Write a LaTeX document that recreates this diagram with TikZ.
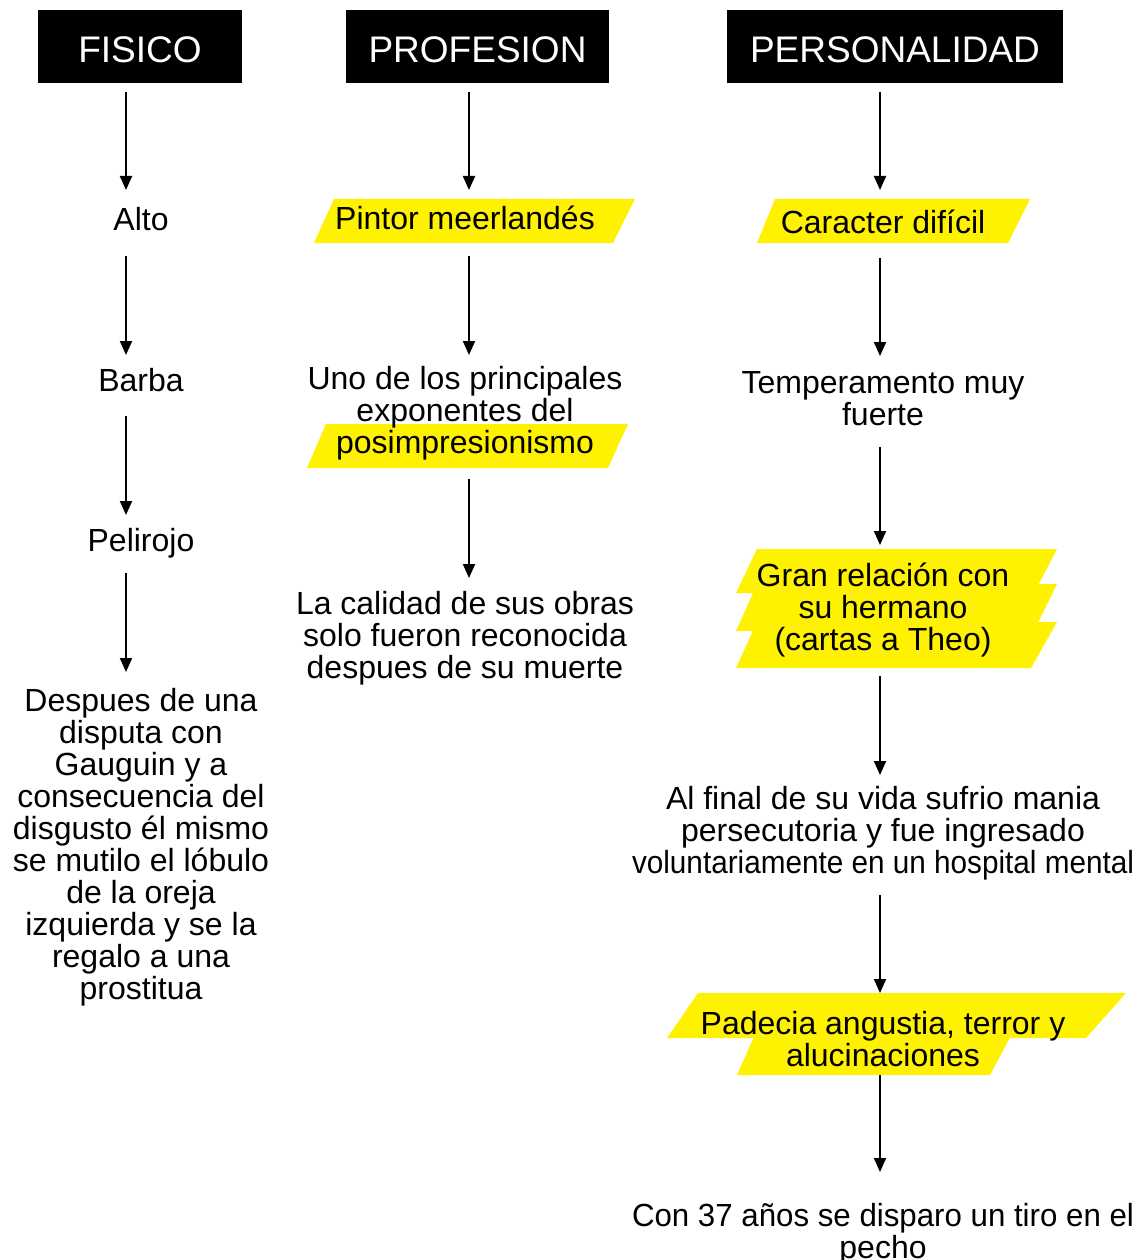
\documentclass[tikz,border=0pt]{standalone}
\usepackage{fontspec}
\usepackage{graphicx}
\setmainfont{Liberation Sans}
\usetikzlibrary{arrows.meta}
\definecolor{hl}{HTML}{FFF200}
\newcommand{\fitline}[1]{\resizebox{502pt}{\height}{#1}}
\newcommand{\bodyfont}{\fontsize{32}{32}\selectfont\lineskiplimit -100pt\relax}
\begin{document}
\begin{tikzpicture}[x=1pt,y=-1pt,
  arr/.style={line width=2pt,-{Triangle[width=12pt,length=14pt]}},
  hdr/.style={fill=black,text=white,inner sep=0pt,text height=31.5pt,text depth=0pt,
    minimum height=73pt,font=\fontsize{37}{40}\selectfont},
  txt/.style={align=center,inner sep=0pt,font=\bodyfont},
  hlfill/.style={fill=hl}]
\useasboundingbox[fill=white] (0,0) rectangle (1144,1260);

% headers
\node[hdr,minimum width=204pt] (hfis) at (140,46.5) {FISICO};
\node[hdr,minimum width=263pt] (hpro) at (477.5,46.5) {PROFESION};
\node[hdr,minimum width=336pt] (hper) at (895,46.5) {PERSONALIDAD};

% yellow highlights
\fill[hlfill] (334,199) -- (635,199) -- (613,243) -- (314,243) -- cycle;
\fill[hlfill] (326,424) -- (628,424) -- (608,468) -- (307,468) -- cycle;
\fill[hlfill] (775,199) -- (1030,199) -- (1008,243) -- (757,243) -- cycle;
\fill[hlfill] (757,549) -- (1057,549) -- (1034,593) -- (736,593) -- cycle;
\fill[hlfill] (757,584) -- (1057,584) -- (1034,631) -- (736,631) -- cycle;
\fill[hlfill] (757,622) -- (1057,622) -- (1031,668) -- (736,668) -- cycle;
\fill[hlfill] (698,993) -- (1126,993) -- (1086,1038) -- (667,1038) -- cycle;
\fill[hlfill] (757,1030) -- (1014,1030) -- (990,1075) -- (737,1075) -- cycle;

% FISICO column
\node[txt] (alto) at (141,224) {\strut Alto\strut};
\node[txt] (barba) at (141,385) {\strut Barba\strut};
\node[txt] (peli) at (141,545) {\strut Pelirojo\strut};
\node[txt] (desp) at (141,849) {\strut Despues de una\\disputa con\\Gauguin y a\\consecuencia del\\disgusto él mismo\\se mutilo el lóbulo\\de la oreja\\izquierda y se la\\regalo a una\\prostitua\strut};

% PROFESION column
\node[txt] (pint) at (465,223) {\strut Pintor meerlandés\strut};
\node[txt] (uno) at (465,415) {\strut Uno de los principales\\exponentes del\\posimpresionismo\strut};
\node[txt] (cali) at (465,640) {\strut La calidad de sus obras\\solo fueron reconocida\\despues de su muerte\strut};

% PERSONALIDAD column
\node[txt] (cara) at (883,227) {\strut Caracter difícil\strut};
\node[txt] (temp) at (883,403) {\strut Temperamento muy\\fuerte\strut};
\node[txt] (gran) at (883,612) {\strut Gran relación con\\su hermano\\(cartas a Theo)\strut};
\node[txt] (alfi) at (883,835) {\strut Al final de su vida sufrio mania\\persecutoria y fue ingresado\\\fitline{voluntariamente en un hospital mental}\strut};
\node[txt] (pade) at (883,1044) {\strut Padecia angustia, terror y\\alucinaciones\strut};
\node[txt] (con) at (883,1236) {\strut\fitline{Con 37 años se disparo un tiro en el}\\pecho\strut};

% arrow end points
\coordinate (f1a) at (126,92);  \coordinate (f1b) at (126,190);
\coordinate (f2a) at (126,256); \coordinate (f2b) at (126,355);
\coordinate (f3a) at (126,416); \coordinate (f3b) at (126,515);
\coordinate (f4a) at (126,573); \coordinate (f4b) at (126,672);
\coordinate (p1a) at (469,92);  \coordinate (p1b) at (469,190);
\coordinate (p2a) at (469,256); \coordinate (p2b) at (469,355);
\coordinate (p3a) at (469,479); \coordinate (p3b) at (469,578);
\coordinate (q1a) at (880,92);  \coordinate (q1b) at (880,190);
\coordinate (q2a) at (880,258); \coordinate (q2b) at (880,356);
\coordinate (q3a) at (880,447); \coordinate (q3b) at (880,545);
\coordinate (q4a) at (880,676); \coordinate (q4b) at (880,775);
\coordinate (q5a) at (880,895); \coordinate (q5b) at (880,993);
\coordinate (q6a) at (880,1075); \coordinate (q6b) at (880,1172);

\foreach \s in {f1,f2,f3,f4,p1,p2,p3,q1,q2,q3,q4,q5,q6}
  \draw[arr] (\s a) -- (\s b);
\end{tikzpicture}
\end{document}
